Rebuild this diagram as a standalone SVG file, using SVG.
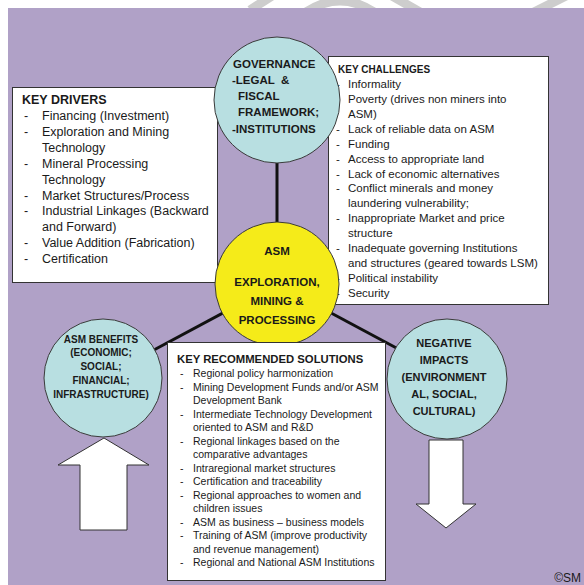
<svg xmlns="http://www.w3.org/2000/svg" width="584" height="585" viewBox="0 0 584 585">
  <defs>
    <style>
      .bg { fill: #b0a1c7; }
      .box { fill: #ffffff; stroke: #333333; stroke-width: 1; }
      .teal { fill: #b8dfe1; stroke: #3a3a3a; stroke-width: 1; }
      .core { fill: #f5eb19; stroke: #3a3a3a; stroke-width: 1; }
      .arrow { fill: #ffffff; stroke: #333333; stroke-width: 1; }
      .link { stroke: #111111; stroke-width: 3; fill: none; }
      .mark { stroke: #cdcdcd; stroke-width: 9; fill: none; }
      text { font-family: "Liberation Sans", Arial, sans-serif; fill: #1a1a1a; }
      .hd { font-weight: bold; }
      .drv { font-size: 12.5px; }
      .chl { font-size: 11.5px; }
      .sol { font-size: 10.5px; }
      .gov { font-size: 11.5px; font-weight: bold; }
      .asm { font-size: 11.5px; font-weight: bold; text-anchor: middle; }
      .ben { font-size: 10px; font-weight: bold; text-anchor: middle; }
      .neg { font-size: 11px; font-weight: bold; text-anchor: middle; }
    </style>
    <clipPath id="topband">
      <rect x="0" y="0" width="584" height="8"/>
    </clipPath>
  </defs>

  <!-- page -->
  <rect x="0" y="0" width="584" height="585" fill="#ffffff"/>
  <g clip-path="url(#topband)">
    <path class="mark" d="M250 10 L272 -4"/>
    <path class="mark" d="M306 12 Q340 -10 374 12"/>
    <path class="mark" d="M392 -4 L420 12"/>
    <path class="mark" d="M534 12 L566 -4"/>
  </g>
  <rect class="bg" x="8" y="8" width="576" height="577"/>

  <!-- connectors -->
  <g id="connectors">
    <line class="link" x1="277" y1="160" x2="277" y2="284"/>
    <line class="link" x1="277" y1="284" x2="152" y2="351"/>
    <line class="link" x1="277" y1="284" x2="402" y2="351"/>
  </g>

  <!-- key drivers -->
  <g id="key-drivers">
    <rect class="box" x="12.5" y="87.5" width="205" height="195"/>
    <text class="drv hd" x="22" y="104" font-size="12">KEY DRIVERS</text>
    <g class="drv">
      <text x="24" y="120">-</text><text x="42" y="120">Financing (Investment)</text>
      <text x="24" y="136">-</text><text x="42" y="136">Exploration and Mining</text>
      <text x="42" y="152">Technology</text>
      <text x="24" y="168">-</text><text x="42" y="168">Mineral Processing</text>
      <text x="42" y="184">Technology</text>
      <text x="24" y="199.5">-</text><text x="42" y="199.5">Market Structures/Process</text>
      <text x="24" y="215">-</text><text x="42" y="215">Industrial Linkages (Backward</text>
      <text x="42" y="231">and Forward)</text>
      <text x="24" y="247">-</text><text x="42" y="247">Value Addition (Fabrication)</text>
      <text x="24" y="263">-</text><text x="42" y="263">Certification</text>
    </g>
  </g>

  <!-- key challenges -->
  <g id="key-challenges">
    <rect class="box" x="328.5" y="56.5" width="220" height="248"/>
    <text class="hd" x="338" y="73" font-size="10">KEY CHALLENGES</text>
    <g class="chl">
      <text x="336" y="88">-</text><text x="348" y="88">Informality</text>
      <text x="336" y="103">-</text><text x="348" y="103">Poverty (drives non miners into</text>
      <text x="348" y="118">ASM)</text>
      <text x="336" y="132.5">-</text><text x="348" y="132.5">Lack of reliable data on ASM</text>
      <text x="336" y="147.5">-</text><text x="348" y="147.5">Funding</text>
      <text x="336" y="162.5">-</text><text x="348" y="162.5">Access to appropriate land</text>
      <text x="336" y="177.5">-</text><text x="348" y="177.5">Lack of economic alternatives</text>
      <text x="336" y="192">-</text><text x="348" y="192">Conflict minerals and money</text>
      <text x="348" y="207">laundering vulnerability;</text>
      <text x="336" y="222">-</text><text x="348" y="222">Inappropriate Market and price</text>
      <text x="348" y="237">structure</text>
      <text x="336" y="252">-</text><text x="348" y="252">Inadequate governing Institutions</text>
      <text x="348" y="267">and structures (geared towards LSM)</text>
      <text x="336" y="281.5">-</text><text x="348" y="281.5">Political instability</text>
      <text x="336" y="296.5">-</text><text x="348" y="296.5">Security</text>
    </g>
  </g>

  <!-- governance -->
  <g id="governance">
    <circle class="teal" cx="277" cy="100" r="63"/>
    <text class="gov" x="233" y="68">GOVERNANCE</text>
    <text class="gov" x="232" y="84" xml:space="preserve">-LEGAL  &amp;</text>
    <text class="gov" x="238" y="100">FISCAL</text>
    <text class="gov" x="238" y="116">FRAMEWORK;</text>
    <text class="gov" x="232" y="133">-INSTITUTIONS</text>
  </g>

  <!-- core -->
  <g id="asm-core">
    <circle class="core" cx="277" cy="284" r="62"/>
    <text class="asm" x="277" y="255">ASM</text>
    <text class="asm" x="277" y="286">EXPLORATION,</text>
    <text class="asm" x="277" y="305">MINING &amp;</text>
    <text class="asm" x="277" y="324">PROCESSING</text>
  </g>

  <!-- key recommended solutions -->
  <g id="key-solutions">
    <rect class="box" x="167.5" y="342.5" width="218" height="238"/>
    <text class="hd" x="177" y="363" font-size="11.3">KEY RECOMMENDED SOLUTIONS</text>
    <g class="sol">
      <text x="180" y="377">-</text><text x="193" y="377">Regional policy harmonization</text>
      <text x="180" y="390.5">-</text><text x="193" y="390.5">Mining Development Funds and/or ASM</text>
      <text x="193" y="404">Development Bank</text>
      <text x="180" y="417.5">-</text><text x="193" y="417.5">Intermediate Technology Development</text>
      <text x="193" y="431">oriented to ASM and R&amp;D</text>
      <text x="180" y="444.5">-</text><text x="193" y="444.5">Regional linkages based on the</text>
      <text x="193" y="458">comparative advantages</text>
      <text x="180" y="471.5">-</text><text x="193" y="471.5">Intraregional market structures</text>
      <text x="180" y="485">-</text><text x="193" y="485">Certification and traceability</text>
      <text x="180" y="498.5">-</text><text x="193" y="498.5">Regional approaches to women and</text>
      <text x="193" y="512">children issues</text>
      <text x="180" y="525.5">-</text><text x="193" y="525.5">ASM as business – business models</text>
      <text x="180" y="539">-</text><text x="193" y="539">Training of ASM (improve productivity</text>
      <text x="193" y="552.5">and revenue management)</text>
      <text x="180" y="566">-</text><text x="193" y="566">Regional and National ASM Institutions</text>
    </g>
  </g>

  <!-- benefits -->
  <g id="asm-benefits">
    <circle class="teal" cx="103" cy="378" r="59"/>
    <text class="ben" x="101" y="342.5">ASM BENEFITS</text>
    <text class="ben" x="101" y="356">(ECONOMIC;</text>
    <text class="ben" x="101" y="370">SOCIAL;</text>
    <text class="ben" x="101" y="384">FINANCIAL;</text>
    <text class="ben" x="101" y="397.5">INFRASTRUCTURE)</text>
    <polygon class="arrow" points="104,438 149,465 127,465 127,530 80,530 80,465 58,465"/>
  </g>

  <!-- negative impacts -->
  <g id="negative-impacts">
    <circle class="teal" cx="447" cy="379" r="60"/>
    <text class="neg" x="444" y="347">NEGATIVE</text>
    <text class="neg" x="444" y="364">IMPACTS</text>
    <text class="neg" x="444" y="381">(ENVIRONMENT</text>
    <text class="neg" x="444" y="398">AL, SOCIAL,</text>
    <text class="neg" x="444" y="415">CULTURAL)</text>
    <polygon class="arrow" points="429,440 463,440 463,504 476,504 446,528 416,504 429,504"/>
  </g>

  <text x="581" y="582" font-size="12" fill="#444444" text-anchor="end">©SM</text>
</svg>
